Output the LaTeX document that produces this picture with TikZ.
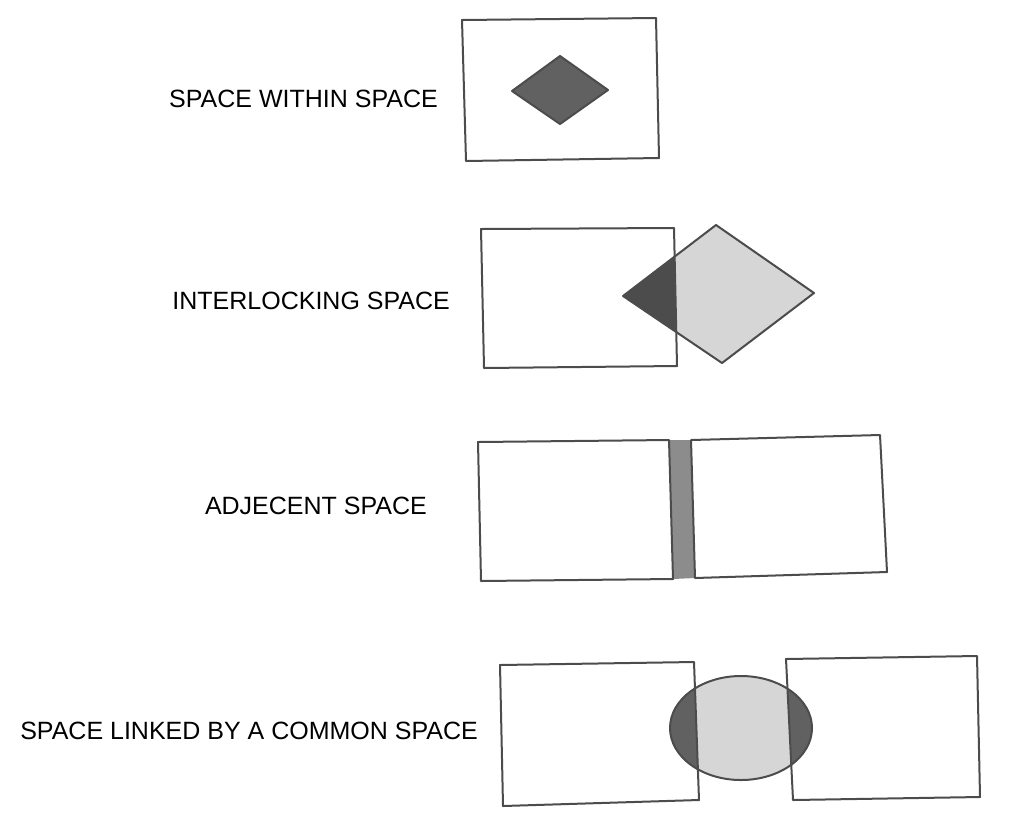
\documentclass[tikz,border=0pt]{standalone}
\usepackage{fontspec}
\setmainfont{Liberation Sans}
\begin{document}
\begin{tikzpicture}[x=1pt,y=-1pt,
  pencil/.style={draw=black!70,line width=2pt,line join=round},
  lbl/.style={font=\fontsize{25}{29}\selectfont,text=black,inner sep=0pt},
  darkfill/.style={fill=black!62},
  midfill/.style={fill=black!45},
  lightfill/.style={fill=black!16}]
\useasboundingbox[fill=white] (0,0) rectangle (1024,831);
% ---------- Row 1: space within space
\node[lbl,anchor=east] (t1) at (438,99) {SPACE WITHIN SPACE};
\coordinate (r1a) at (462,20); \coordinate (r1b) at (656,18);
\coordinate (r1c) at (659,158); \coordinate (r1d) at (466,161);
\coordinate (d1l) at (512,91); \coordinate (d1t) at (560,56);
\coordinate (d1r) at (608,90); \coordinate (d1b) at (560,124);
\draw[pencil] (r1a) -- (r1b) -- (r1c) -- (r1d) -- cycle;
\draw[pencil,darkfill] (d1l) -- (d1t) -- (d1r) -- (d1b) -- cycle;
% ---------- Row 2: interlocking space
\node[lbl,anchor=east] (t2) at (450,301) {INTERLOCKING SPACE};
\coordinate (r2a) at (481,229); \coordinate (r2b) at (674,228);
\coordinate (r2c) at (677,366); \coordinate (r2d) at (484,368);
\coordinate (d2l) at (623,296); \coordinate (d2t) at (716,225);
\coordinate (d2r) at (814,293); \coordinate (d2b) at (722,363);
\fill[lightfill] (d2l) -- (d2t) -- (d2r) -- (d2b) -- cycle;
\begin{scope}
  \clip (r2a) -- (r2b) -- (r2c) -- (r2d) -- cycle;
  \fill[fill=black!70] (d2l) -- (d2t) -- (d2r) -- (d2b) -- cycle;
\end{scope}
\draw[pencil] (r2a) -- (r2b) -- (r2c) -- (r2d) -- cycle;
\draw[pencil] (d2l) -- (d2t) -- (d2r) -- (d2b) -- cycle;
% ---------- Row 3: adjacent space
\node[lbl,anchor=east] (t3) at (427,506) {ADJECENT SPACE};
\coordinate (r3a) at (478,442); \coordinate (r3b) at (669,440);
\coordinate (r3c) at (673,579); \coordinate (r3d) at (481,581);
\coordinate (s3a) at (669,440); \coordinate (s3b) at (691,440);
\coordinate (s3c) at (695,578); \coordinate (s3d) at (673,579);
\coordinate (q3a) at (691,440); \coordinate (q3b) at (880,435);
\coordinate (q3c) at (887,572); \coordinate (q3d) at (695,578);
\fill[midfill] (s3a) -- (s3b) -- (s3c) -- (s3d) -- cycle;
\draw[pencil] (r3a) -- (r3b) -- (r3c) -- (r3d) -- cycle;
\draw[pencil] (q3a) -- (q3b) -- (q3c) -- (q3d) -- cycle;
% ---------- Row 4: space linked by a common space
\node[lbl,anchor=east] (t4) at (478,731) {SPACE LINKED BY A COMMON SPACE};
\coordinate (r4a) at (500,665); \coordinate (r4b) at (694,662);
\coordinate (r4c) at (699,800); \coordinate (r4d) at (503,806);
\coordinate (q4a) at (786,659); \coordinate (q4b) at (977,656);
\coordinate (q4c) at (980,797); \coordinate (q4d) at (793,800);
\coordinate (e4) at (741,728);
\fill[lightfill] (e4) ellipse [x radius=71, y radius=52];
\begin{scope}
  \clip (r4a) -- (r4b) -- (r4c) -- (r4d) -- cycle;
  \fill[darkfill] (e4) ellipse [x radius=71, y radius=52];
\end{scope}
\begin{scope}
  \clip (q4a) -- (q4b) -- (q4c) -- (q4d) -- cycle;
  \fill[darkfill] (e4) ellipse [x radius=71, y radius=52];
\end{scope}
\draw[pencil] (e4) ellipse [x radius=71, y radius=52];
\draw[pencil] (r4a) -- (r4b) -- (r4c) -- (r4d) -- cycle;
\draw[pencil] (q4a) -- (q4b) -- (q4c) -- (q4d) -- cycle;
\end{tikzpicture}
\end{document}
